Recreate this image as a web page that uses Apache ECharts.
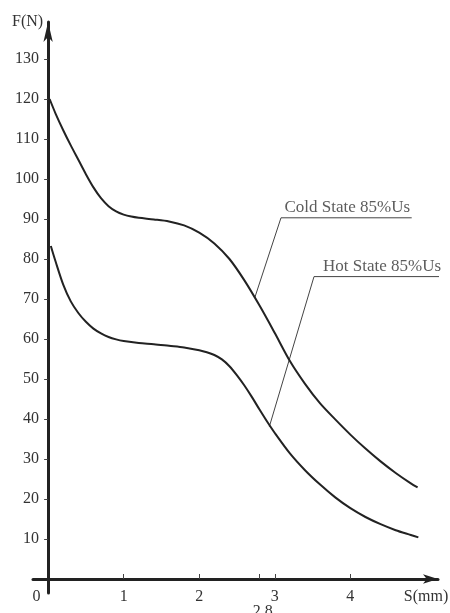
<!DOCTYPE html>
<html>
<head>
<meta charset="utf-8">
<script src="https://cdn.jsdelivr.net/npm/echarts@6/dist/echarts.min.js"></script>
<style>
html,body{margin:0;padding:0;background:#fff;}
#chart{width:450px;height:613px;}
</style>
</head>
<body>
<div id="chart"></div>
<script>
// ---- data ----
var coldState = [[0.02,120],[0.1,116.3],[0.2,112.2],[0.3,108.4],[0.4,104.8],[0.5,101.2],[0.6,97.9],[0.7,95.2],[0.8,93.2],[0.9,91.9],[1.0,91.1],[1.1,90.6],[1.2,90.3],[1.4,89.9],[1.6,89.4],[1.8,88.4],[2.0,86.6],[2.2,83.9],[2.4,80.0],[2.6,74.6],[2.8,68.3],[3.0,61.5],[3.2,54.5],[3.4,48.8],[3.6,43.9],[3.8,39.9],[4.0,36.1],[4.2,32.6],[4.4,29.4],[4.6,26.5],[4.8,23.9],[4.89,22.9]];
var hotState = [[0.036,83.25],[0.1,79.3],[0.2,73.6],[0.3,69.4],[0.4,66.5],[0.5,64.3],[0.6,62.6],[0.7,61.4],[0.8,60.5],[0.9,59.9],[1.0,59.5],[1.2,59.0],[1.4,58.7],[1.6,58.3],[1.8,57.9],[2.0,57.2],[2.1,56.7],[2.2,56.0],[2.3,54.9],[2.4,53.2],[2.5,50.9],[2.6,48.3],[2.7,45.4],[2.8,42.3],[2.9,39.3],[3.0,36.5],[3.2,31.4],[3.4,27.2],[3.6,23.6],[3.8,20.4],[4.0,17.7],[4.2,15.5],[4.4,13.7],[4.6,12.2],[4.8,11.0],[4.9,10.4]];
var coldLeader = [[2.738,70.5],[3.082,90.3],[4.812,90.3]];
var hotLeader = [[2.928,38.1],[3.519,75.6],[5.226,75.6]];
var coldLabel = {name:'Cold State 85%Us', value:[3.96,90.3]};
var hotLabel = {name:'Hot State 85%Us', value:[4.42,75.6]};
var xTicks = [1,2,2.8,3,4];
var xLabels = [0,1,2,2.8,3,4];
var yTicks = [10,20,30,40,50,60,70,80,90,100,110,120,130];
var xName = 'S(mm)';
var yName = 'F(N)';

var FONT = '"Liberation Serif","DejaVu Serif",serif';
var TXT = '#333';
var AX = '#222';

var chart = echarts.init(document.getElementById('chart'), null, {renderer:'canvas'});
chart.setOption({
  animation:false,
  backgroundColor:'#fff',
  grid:{left:33,right:12,top:22,bottom:20,containLabel:false,outerBoundsMode:'none'},
  xAxis:{
    type:'value', min:-0.2, max:5.16,
    name:xName, nameLocation:'end', nameGap:-12,
    nameTextStyle:{fontFamily:FONT,fontSize:16,color:TXT,align:'center',verticalAlign:'top',padding:[10,0,0,0]},
    axisLine:{show:true,onZero:true,lineStyle:{color:AX,width:3},symbol:['none','arrow'],symbolSize:[7,15],symbolOffset:[0,0]},
    axisTick:{show:true,inside:true,length:5,customValues:xTicks,lineStyle:{color:'#444',width:1}},
    axisLabel:{show:true,margin:-4,customValues:xLabels,fontFamily:FONT,fontSize:16,color:TXT,
      formatter:function(v){
        if(v===0) return '{z|0}';
        if(Math.abs(v-2.8)<1e-6) return '{d|2.8}';
        return String(v);
      },
      rich:{
        z:{fontFamily:FONT,fontSize:16,color:TXT,padding:[0,23,0,0]},
        d:{fontFamily:FONT,fontSize:16,color:TXT,padding:[15,0,0,6]}
      }
    },
    splitLine:{show:false}
  },
  yAxis:{
    type:'value', min:-3.5, max:139.25,
    name:yName, nameLocation:'end', nameGap:0,
    nameTextStyle:{fontFamily:FONT,fontSize:16,color:TXT,align:'right',verticalAlign:'middle',padding:[0,5,0,0]},
    axisLine:{show:true,onZero:true,lineStyle:{color:AX,width:3},symbol:['none','arrow'],symbolSize:[7,20],symbolOffset:[0,0]},
    axisTick:{show:true,inside:false,length:4,customValues:yTicks,lineStyle:{color:'#444',width:1}},
    axisLabel:{show:true,margin:-6,customValues:yTicks,fontFamily:FONT,fontSize:16,color:TXT},
    splitLine:{show:false}
  },
  series:[
    {type:'line',name:'Cold State 85%Us',data:coldState,smooth:0.3,showSymbol:false,lineStyle:{color:'#222',width:2},z:3},
    {type:'line',name:'Hot State 85%Us',data:hotState,smooth:0.3,showSymbol:false,lineStyle:{color:'#222',width:2},z:3},
    {type:'line',data:coldLeader,showSymbol:false,clip:false,lineStyle:{color:'#444',width:1},z:2},
    {type:'line',data:hotLeader,showSymbol:false,clip:false,lineStyle:{color:'#444',width:1},z:2},
    {type:'scatter',data:[coldLabel,hotLabel],symbolSize:0,clip:false,
      label:{show:true,position:'top',distance:2,formatter:'{b}',fontFamily:FONT,fontSize:17,color:TXT}}
  ]
});
</script>
</body>
</html>
